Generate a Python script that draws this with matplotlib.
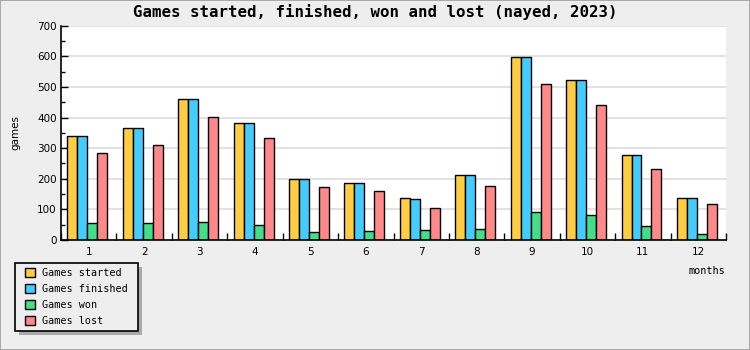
import numpy as np
import matplotlib
matplotlib.use("Agg")
import matplotlib.pyplot as plt
from matplotlib.patches import Rectangle

# data
months = [1, 2, 3, 4, 5, 6, 7, 8, 9, 10, 11, 12]
started = [339, 365, 462, 381, 198, 185, 136, 211, 597, 522, 277, 136]
finished = [339, 365, 462, 381, 198, 185, 133, 211, 597, 522, 277, 136]
won = [55, 55, 60, 48, 25, 28, 32, 35, 90, 81, 45, 19]
lost = [283, 309, 401, 332, 172, 159, 103, 175, 508, 440, 231, 117]

series = [("Games started", started, "#ffcc44"),
          ("Games finished", finished, "#44ccff"),
          ("Games won", won, "#44dd88"),
          ("Games lost", lost, "#ff8888")]

W, H = 750, 350
fig = plt.figure(figsize=(W / 100, H / 100), dpi=100)
fig.patch.set_facecolor("#eeeeee")
fig.patch.set_edgecolor("#aaaaaa")
fig.patch.set_linewidth(1.2)

# plot area in pixels: x 61..726, y 25.7..240
ax = fig.add_axes([61 / W, (H - 240) / H, (726 - 61) / W, (240 - 25.7) / H])
ax.set_facecolor("white")

x = np.array(months)
w = 0.18
for i, (name, vals, col) in enumerate(series):
    ax.bar(x + (i - 1.5) * w - 0.025, vals, width=w, color=col,
           edgecolor="black", linewidth=1.0, label=name, zorder=3)

ax.set_xlim(0.5, 12.5)
ax.set_ylim(0, 700)
ax.set_yticks(range(0, 701, 100))
ax.set_yticks(range(50, 700, 100), minor=True)
ax.set_xticks(months)
ax.set_xticks(np.arange(0.5, 13, 1), minor=True)
ax.yaxis.grid(True, color="#dddddd", linewidth=1.2, zorder=0)
ax.set_axisbelow(True)

for s in ("top", "right"):
    ax.spines[s].set_visible(False)
for s in ("left", "bottom"):
    ax.spines[s].set_linewidth(1.2)
    ax.spines[s].set_zorder(5)

ax.tick_params(axis="y", which="major", direction="in", length=5, width=1, pad=3,
               labelsize=7.5)
ax.tick_params(axis="y", which="minor", direction="in", length=3, width=1)
ax.tick_params(axis="x", which="major", length=0, pad=5, labelsize=7.5)
ax.tick_params(axis="x", which="minor", direction="in", length=5, width=1)
for lab in ax.get_xticklabels() + ax.get_yticklabels():
    lab.set_family("DejaVu Sans")

fig.text(0.5, 1 - 12.5 / H, "Games started, finished, won and lost (nayed, 2023)",
         ha="center", va="center", family="DejaVu Sans Mono", fontsize=11.3,
         weight="semibold")
fig.text(15.5 / W, 1 - 133 / H, "games", rotation=90, ha="center", va="center",
         family="DejaVu Sans", fontsize=7.5)
fig.text(725 / W, 1 - 271.5 / H, "months", ha="right", va="center",
         family="DejaVu Sans Mono", fontsize=7.3)

leg = fig.legend(loc="upper left", bbox_to_anchor=(25 / W, 1 - 268 / H),
                 frameon=False, prop={"family": "DejaVu Sans Mono", "size": 7.3},
                 handlelength=1.0, handleheight=1.0, handletextpad=0.7,
                 labelspacing=0.6, borderpad=0, borderaxespad=0)

fig.canvas.draw()
bb = leg.get_window_extent()
x0, y0 = bb.x0 - 10, bb.y0 - 5
bw, bh = bb.width + 20, bb.height + 10
fig.patches.append(Rectangle((x0 + 4, y0 - 4), bw, bh, transform=None,
                             facecolor="#aaaaaa", edgecolor="none", zorder=1))
fig.patches.append(Rectangle((x0, y0), bw, bh, transform=None,
                             facecolor="#eeeeee", edgecolor="black",
                             linewidth=1.2, zorder=2))

fig.savefig("out.png", dpi=100, facecolor=fig.get_facecolor(),
            edgecolor=fig.get_edgecolor())
